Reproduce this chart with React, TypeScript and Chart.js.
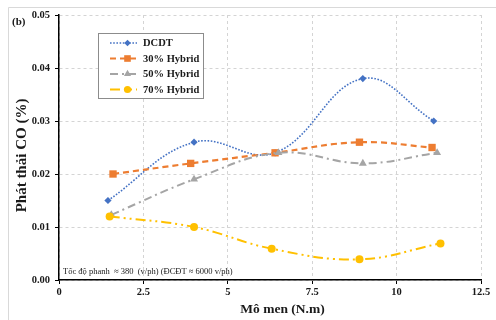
import React, { useEffect, useRef } from 'react';
import { Chart, registerables } from 'chart.js';
import { drawPoint } from 'chart.js/helpers';

Chart.register(...registerables);

// ---- data ----
const xTicks = [0, 2.5, 5, 7.5, 10, 12.5];
const yTicks = [0, 0.01, 0.02, 0.03, 0.04, 0.05];
const seriesNames = ['DCDT', '30% Hybrid', '50% Hybrid', '70% Hybrid'];

const dcdtTorque = [1.45, 4.0, 6.4, 9.0, 11.1];
const dcdtCO = [0.015, 0.026, 0.024, 0.038, 0.03];

const hyb30Torque = [1.6, 3.9, 6.4, 8.9, 11.05];
const hyb30CO = [0.02, 0.022, 0.024, 0.026, 0.025];

const hyb50Torque = [1.55, 4.0, 6.5, 9.0, 11.2];
const hyb50CO = [0.0123, 0.019, 0.024, 0.022, 0.024];

const hyb70Torque = [1.5, 4.0, 6.3, 8.9, 11.3];
const hyb70CO = [0.012, 0.01, 0.0059, 0.0039, 0.0069];

const panelLabel = '(b)';
const xTitle = 'Mô men (N.m)';
const yTitle = 'Phát thải CO (%)';
const note = 'Tốc độ phanh  ≈ 380  (v/ph) (ĐCĐT ≈ 6000 v/ph)';

const SERIF = '"Liberation Serif", "Times New Roman", serif';

const toPoints = (xs: number[], ys: number[]) => xs.map((x, i) => ({ x, y: ys[i] }));

const styles = [
  { color: '#4472C4', dash: [1.6, 1.6], width: 1.6, point: 'rectRot', radius: 3.6 },
  { color: '#ED7D31', dash: [6, 4], width: 2.2, point: 'rect', radius: 5.2 },
  { color: '#A5A5A5', dash: [8, 4, 2, 4], width: 2, point: 'triangle', radius: 4.6 },
  { color: '#FFC000', dash: [10, 4, 2, 4, 2, 4], width: 2, point: 'circle', radius: 4 },
];

const decorPlugin = {
  id: 'decor',
  beforeDraw(chart: any) {
    const ctx = chart.ctx;
    ctx.save();
    ctx.fillStyle = '#fff';
    ctx.fillRect(0, 0, chart.width, chart.height);
    ctx.strokeStyle = '#d9d9d9';
    ctx.lineWidth = 1;
    ctx.beginPath();
    ctx.moveTo(8.5, 330);
    ctx.lineTo(8.5, 7.5);
    ctx.lineTo(500, 7.5);
    ctx.stroke();
    ctx.restore();
  },
  afterDraw(chart: any) {
    const ctx = chart.ctx;
    const area = chart.chartArea;
    ctx.save();
    ctx.fillStyle = '#1a1a1a';
    // panel label
    ctx.font = `bold 11px ${SERIF}`;
    ctx.textAlign = 'left';
    ctx.textBaseline = 'middle';
    ctx.fillText(panelLabel, 12, 22);
    // x title
    ctx.font = `bold 13.5px ${SERIF}`;
    ctx.textAlign = 'center';
    ctx.fillText(xTitle, 282.5, 310);
    // y title
    ctx.save();
    ctx.translate(22, 155.5);
    ctx.rotate(-Math.PI / 2);
    ctx.font = `bold 15px ${SERIF}`;
    ctx.fillText(yTitle, 0, 0);
    ctx.restore();
    // note
    ctx.font = `8.5px ${SERIF}`;
    ctx.textAlign = 'left';
    ctx.fillText(note, area.left + 4, 271.5);

    // legend
    const bx = 98.5, by = 33.5, bw = 105, bh = 65;
    ctx.fillStyle = '#fff';
    ctx.fillRect(bx, by, bw, bh);
    ctx.strokeStyle = '#8c8c8c';
    ctx.lineWidth = 1;
    ctx.strokeRect(bx, by, bw, bh);
    const rows = [43, 58.5, 74, 89.5];
    chart.data.datasets.forEach((ds: any, i: number) => {
      const st = styles[i];
      const y = rows[i];
      ctx.save();
      ctx.strokeStyle = st.color;
      ctx.lineWidth = st.width;
      ctx.setLineDash(st.dash);
      ctx.beginPath();
      ctx.moveTo(110, y);
      ctx.lineTo(137, y);
      ctx.stroke();
      ctx.setLineDash([]);
      ctx.fillStyle = st.color;
      ctx.strokeStyle = st.color;
      drawPoint(ctx, { pointStyle: st.point, radius: st.radius * 0.9, rotation: 0, borderWidth: 0 } as any, 127.5, y);
      ctx.restore();
      ctx.fillStyle = '#1a1a1a';
      ctx.font = `bold 10.5px ${SERIF}`;
      ctx.textAlign = 'left';
      ctx.textBaseline = 'middle';
      ctx.fillText(ds.label, 143, y + 0.5);
    });
    ctx.restore();
  },
};

export default function App() {
  const ref = useRef<HTMLCanvasElement | null>(null);

  useEffect(() => {
    if (!ref.current) return;
    const allX = [dcdtTorque, hyb30Torque, hyb50Torque, hyb70Torque];
    const allY = [dcdtCO, hyb30CO, hyb50CO, hyb70CO];
    const datasets = seriesNames.map((name, i) => ({
      label: name,
      data: toPoints(allX[i], allY[i]),
      order: seriesNames.length - i,
      borderColor: styles[i].color,
      backgroundColor: styles[i].color,
      borderWidth: styles[i].width,
      borderDash: styles[i].dash,
      pointStyle: styles[i].point,
      pointRadius: styles[i].radius,
      pointBackgroundColor: styles[i].color,
      pointBorderColor: styles[i].color,
      pointBorderWidth: 0,
      tension: 0.4,
      fill: false,
    }));

    const chart = new Chart(ref.current, {
      type: 'line',
      data: { datasets } as any,
      options: {
        animation: false,
        responsive: false,
        maintainAspectRatio: false,
        layout: { padding: { left: 0, top: 15, right: 15, bottom: 0 } },
        plugins: { legend: { display: false }, tooltip: { enabled: false } },
        scales: {
          x: {
            type: 'linear',
            min: 0,
            max: 12.5,
            afterBuildTicks: (s: any) => {
              s.ticks = xTicks.map((v) => ({ value: v }));
            },
            afterFit: (s: any) => {
              s.height = 40;
            },
            grid: {
              color: '#d4d4d4',
              lineWidth: 1,
              drawTicks: true,
              tickLength: 4,
              tickColor: '#000',
              tickWidth: 1,
            },
            border: { display: true, color: '#000', width: 1.5, dash: [3, 3] },
            ticks: {
              color: '#1a1a1a',
              padding: 2,
              font: { family: SERIF, size: 10.5, weight: 'bold' },
              callback: (v: any) => String(v),
            },
          },
          y: {
            type: 'linear',
            min: 0,
            max: 0.05,
            afterBuildTicks: (s: any) => {
              s.ticks = yTicks.map((v) => ({ value: v }));
            },
            afterFit: (s: any) => {
              s.width = 59;
            },
            grid: {
              color: '#d4d4d4',
              lineWidth: 1,
              drawTicks: true,
              tickLength: 4,
              tickColor: '#000',
              tickWidth: 1,
            },
            border: { display: true, color: '#000', width: 1.5, dash: [3, 3] },
            ticks: {
              color: '#1a1a1a',
              padding: 5,
              font: { family: SERIF, size: 10.5, weight: 'bold' },
              callback: (v: any) => Number(v).toFixed(2),
            },
          },
        },
      } as any,
      plugins: [decorPlugin],
    });
    return () => chart.destroy();
  }, []);

  return (
    <div style={{ position: 'absolute', left: 0, top: 0, width: 496, height: 320 }}>
      <canvas ref={ref} width={496} height={320} style={{ width: 496, height: 320, display: 'block' }} />
    </div>
  );
}
